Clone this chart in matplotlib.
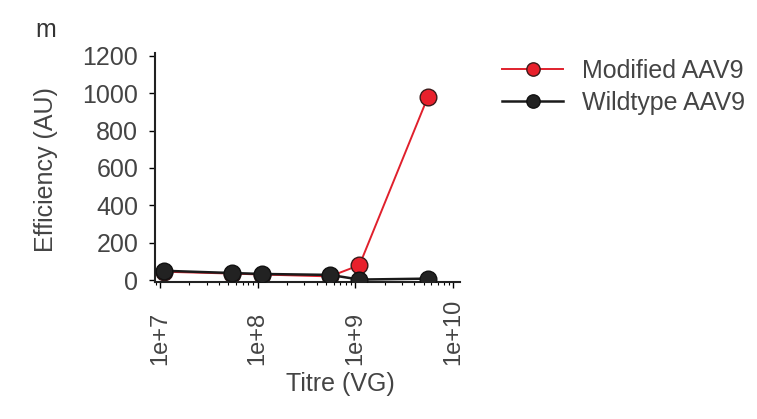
import matplotlib
matplotlib.use("Agg")
import matplotlib.pyplot as plt
from matplotlib.ticker import LogLocator

plt.rcParams['font.family'] = ['Liberation Sans', 'DejaVu Sans']

titre = [1.1e7, 5.5e7, 1.1e8, 5.5e8, 1.1e9, 5.5e9]
modified = [45, 35, 30, 20, 80, 978]
wildtype = [50, 38, 33, 28, 3, 8]
xtick_vals = [1e7, 1e8, 1e9, 1e10]
xtick_labels = ["1e+7", "1e+8", "1e+9", "1e+10"]
ytick_vals = [0, 200, 400, 600, 800, 1000, 1200]

fig = plt.figure(figsize=(7.57, 4.19), dpi=100)
ax = fig.add_axes([155/757, 1-282/419, 305/757, (282-53)/419])

ax.plot(titre, modified, '-o', color='#e0202c', lw=1.4, ms=12,
        mfc='#e8202c', mec='#3a1a1a', mew=1.0, label='Modified AAV9', zorder=2)
ax.plot(titre, wildtype, '-o', color='#1a1a1a', lw=1.8, ms=12,
        mfc='#222222', mec='#111111', label='Wildtype AAV9', zorder=3)

ax.set_xscale('log')
ax.set_xlim(10**(7 - 5/97.7), 10**(7 + 300/97.7))
ax.set_ylim(-10, 1215)
ax.set_xticks(xtick_vals)
ax.set_xticklabels(xtick_labels, rotation=90, fontsize=17, color='#444444', va='bottom')
ax.xaxis.set_minor_locator(LogLocator(base=10, subs=range(2, 10)))
ax.xaxis.set_minor_formatter(plt.NullFormatter())
ax.set_yticks(ytick_vals)
ax.set_yticklabels([str(v) for v in ytick_vals], fontsize=18, color='#444444')

ax.tick_params(axis='x', which='major', length=4, width=1, pad=56, direction='out')
ax.tick_params(axis='x', which='minor', length=2, width=0.8, direction='out')
ax.tick_params(axis='y', length=4, width=1, pad=8)

for s in ['top', 'right']:
    ax.spines[s].set_visible(False)
for s in ['left', 'bottom']:
    ax.spines[s].set_linewidth(1.5)
    ax.spines[s].set_color('#222222')

ax.set_xlabel('Titre (VG)', fontsize=18, color='#444444')
ax.xaxis.set_label_coords((340-155)/305, -(372-282)/229)
ax.xaxis.label.set_va('top')
ax.set_ylabel('Efficiency (AU)', fontsize=18, color='#444444')
ax.yaxis.set_label_coords(-(155-46)/305, (282-170)/229)
ax.yaxis.label.set_va('center')

leg = fig.legend(loc='upper left', bbox_to_anchor=(502/757, 1-59/419), frameon=False,
                 fontsize=18, handlelength=2.45, labelspacing=0.32, handletextpad=0.75,
                 borderpad=0, borderaxespad=0, markerscale=0.8)
for t in leg.get_texts():
    t.set_color('#444444')

fig.text(35/757, 1-30/419, 'm', fontsize=18, color='#333333', va='center')

fig.savefig('out.png', dpi=100, facecolor='white')
